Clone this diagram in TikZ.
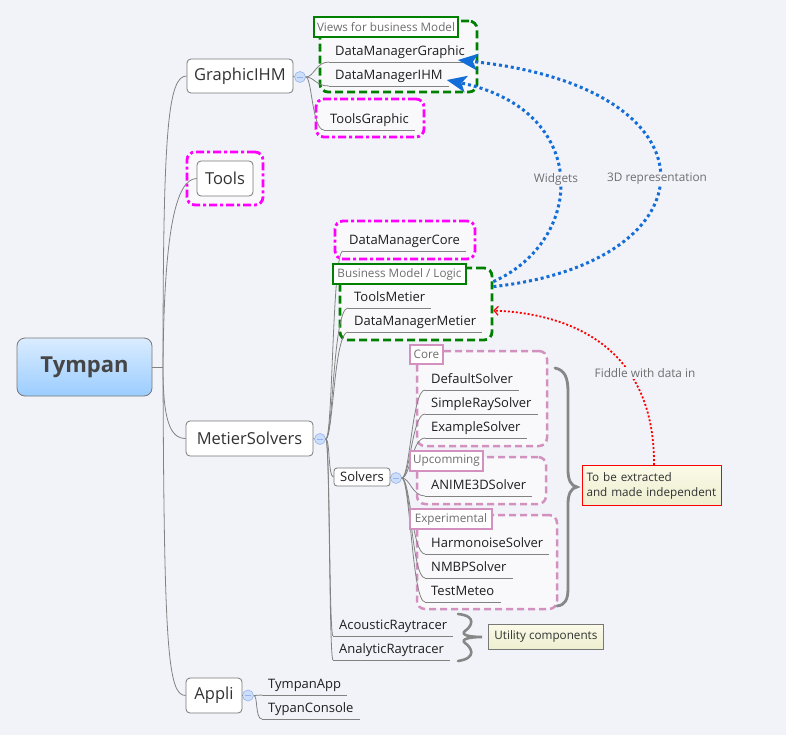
\documentclass[tikz,border=0pt]{standalone}
\usepackage{fontspec}
\setmainfont{Open Sans}
\usetikzlibrary{arrows.meta,shapes.geometric}
\definecolor{bg}{RGB}{242,243,249}
\definecolor{boxfill}{RGB}{249,249,251}
\definecolor{boxgray}{RGB}{120,120,120}
\definecolor{linegray}{RGB}{130,130,130}
\definecolor{txt}{RGB}{30,30,30}
\definecolor{maintxt}{RGB}{50,50,50}
\definecolor{lblgray}{RGB}{110,110,110}
\definecolor{dgreen}{RGB}{0,128,0}
\definecolor{mag}{RGB}{255,0,255}
\definecolor{pinkc}{RGB}{210,145,190}
\definecolor{dblue}{RGB}{20,110,215}
\definecolor{circf}{RGB}{205,222,250}
\definecolor{circb}{RGB}{150,180,235}
\definecolor{tymtop}{RGB}{218,236,255}
\definecolor{tymbot}{RGB}{155,205,255}
\definecolor{tymtxt}{RGB}{70,70,70}
\definecolor{notetop}{RGB}{250,250,232}
\definecolor{notebot}{RGB}{238,238,208}
\definecolor{bracegray}{RGB}{135,135,135}
\begin{document}
\begin{tikzpicture}[x=1pt,y=-1pt,
  mainbox/.style={draw=boxgray, fill=white, rounded corners=4pt, line width=0.8pt,
    font=\fontsize{16.5}{19}\selectfont, text=maintxt, inner sep=0pt},
  leaf/.style={anchor=south west, inner xsep=6pt, inner ysep=2.5pt, text height=10pt,
    text depth=3.5pt, font=\fontsize{13}{15}\selectfont, text=txt},
  uline/.style={draw=linegray, line width=0.8pt},
  branch/.style={draw=linegray, line width=0.8pt},
  circ/.style={circle, draw=circb, fill=circf, minimum size=11pt, inner sep=0pt, line width=0.6pt,
    path picture={\draw[circb,line width=0.7pt] ([xshift=-2.8pt]path picture bounding box.center) -- ([xshift=2.8pt]path picture bounding box.center);}},
  grouplabel/.style={line width=2.5pt, fill=white, font=\fontsize{11.7}{14}\selectfont,
    text=lblgray, inner sep=0pt, minimum height=20pt},
  greenbox/.style={draw=dgreen, line width=2.8pt, dash pattern=on 8pt off 4pt, rounded corners=8pt, fill=boxfill, inner sep=0pt},
  magbox/.style={draw=mag, line width=2.8pt, dash pattern=on 8pt off 3pt on 3pt off 3pt, rounded corners=8pt, fill=boxfill, inner sep=0pt},
  pinkbox/.style={draw=pinkc, line width=2.5pt, dash pattern=on 7pt off 4pt, rounded corners=8pt, fill=boxfill, inner sep=0pt},
  rellabel/.style={font=\fontsize{11.8}{14}\selectfont, text=lblgray, fill=bg, inner sep=1pt},
  bluedot/.style={draw=dblue, line width=3pt, dash pattern=on 3pt off 3pt,
    -{Stealth[length=20pt,width=17pt,inset=5pt,fill=dblue,line width=0pt]}},
  reddot/.style={draw=red, line width=1.8pt, dash pattern=on 2pt off 2pt,
    -{Straight Barb[length=4pt,width=9pt,line width=1.2pt]}},
  bracestyle/.style={draw=bracegray, line width=2.8pt, line cap=round}
]
\useasboundingbox[fill=bg] (0,0) rectangle (786,735);

% ---------- group frames ----------
\node[greenbox, minimum width=157pt, minimum height=71pt] (viewsgrp) at (398.5,56.5) {};
\node[magbox, minimum width=108pt, minimum height=38pt] (tgframe) at (370,118) {};
\node[magbox, minimum width=76pt, minimum height=53pt] (toolsframe) at (225,178.5) {};
\node[magbox, minimum width=140pt, minimum height=38pt] (dmcframe) at (405,240) {};
\node[greenbox, minimum width=152pt, minimum height=72pt] (bmgrp) at (416,304) {};
\node[pinkbox, minimum width=130pt, minimum height=95pt] (coregrp) at (482,398.5) {};
\node[pinkbox, minimum width=129pt, minimum height=47pt] (upgrp) at (481.5,480.5) {};
\node[pinkbox, minimum width=140pt, minimum height=94pt] (expgrp) at (487,562) {};

% ---------- main nodes ----------
\node[draw=boxgray, rounded corners=8pt, top color=tymtop, bottom color=tymbot, line width=0.8pt,
  minimum width=135pt, minimum height=58pt, inner sep=0pt,
  font=\bfseries\fontsize{22}{26}\selectfont, text=tymtxt] (root) at (84.5,367) {Tympan};
\coordinate (hub) at (163,367);

\node[mainbox, minimum width=106pt, minimum height=34pt] (gihm) at (240,76) {GraphicIHM};
\node[mainbox, minimum width=56pt, minimum height=35pt] (tools) at (225,178.5) {Tools};
\node[mainbox, minimum width=127pt, minimum height=35pt] (metier) at (249.5,438.5) {MetierSolvers};
\node[mainbox, minimum width=56pt, minimum height=35pt] (appli) at (214,695.5) {Appli};
\node[mainbox, rounded corners=3pt, minimum width=56pt, minimum height=18pt,
  font=\fontsize{13}{15}\selectfont, text=txt] (solvers) at (362,477) {Solvers};

\node[circ] (gc) at (300,77) {};
\node[circ] (mc) at (320,439) {};
\node[circ] (sc) at (396,478) {};
\node[circ] (ac) at (248,695.5) {};

% ---------- leaves ----------
\node[leaf] (dmg) at (329,62) {DataManagerGraphic};
\node[leaf] (dmi) at (329,86) {DataManagerIHM};
\node[leaf] (tg) at (324,130) {ToolsGraphic};
\node[leaf] (dmc) at (343,251) {DataManagerCore};
\node[leaf] (tm) at (348,308) {ToolsMetier};
\node[leaf] (dmm) at (348,332) {DataManagerMetier};
\node[leaf] (ds) at (425,390) {DefaultSolver};
\node[leaf] (srs) at (425,414) {SimpleRaySolver};
\node[leaf] (es) at (425,438) {ExampleSolver};
\node[leaf] (a3d) at (425,496) {ANIME3DSolver};
\node[leaf] (hs) at (425,554) {HarmonoiseSolver};
\node[leaf] (nmbp) at (425,578) {NMBPSolver};
\node[leaf] (tmet) at (425,602) {TestMeteo};
\node[leaf] (ar) at (333,636) {AcousticRaytracer};
\node[leaf] (anr) at (333,660) {AnalyticRaytracer};
\node[leaf] (ta) at (262,695) {TympanApp};
\node[leaf] (tc) at (262,719) {TypanConsole};

\foreach \n in {dmg,dmi,tg,dmc,tm,dmm,ds,srs,es,a3d,hs,nmbp,tmet,ar,anr,ta,tc}
  \draw[uline] (\n.south west) -- (\n.south east);

% ---------- root branches ----------
\draw[branch] (root.east) -- (hub);
\draw[branch] (hub) .. controls (163,130) and (168,76) .. (gihm.west);
\draw[branch] (hub) .. controls (164,230) and (176,179) .. (tools.west);
\draw[branch] (hub) .. controls (163,420) and (170,438.5) .. (metier.west);
\draw[branch] (hub) .. controls (164,650) and (168,695.5) .. (appli.west);

% ---------- GraphicIHM ----------
\draw[branch] (gihm.east) -- (gc.west);
\draw[branch] (gc.east) .. controls (314,77) and (316,62) .. (dmg.south west);
\draw[branch] (gc.east) .. controls (314,77) and (316,86) .. (dmi.south west);
\draw[branch] (gc.east) .. controls (312,77) and (312,130) .. (tg.south west);

% ---------- MetierSolvers ----------
\draw[branch] (metier.east) -- (mc.west);
\draw[branch] (mc.east) .. controls (333,439) and (332,251) .. (dmc.south west);
\draw[branch] (mc.east) .. controls (333,439) and (333,308) .. (tm.south west);
\draw[branch] (mc.east) .. controls (333,439) and (334,332) .. (dmm.south west);
\draw[branch] (mc.east) .. controls (330,439) and (328,477) .. (solvers.west);
\draw[branch] (mc.east) .. controls (330,439) and (329,636) .. (ar.south west);
\draw[branch] (mc.east) .. controls (330,439) and (329,660) .. (anr.south west);

% ---------- Solvers ----------
\draw[branch] (solvers.east) -- (sc.west);
\foreach \n in {ds,srs,es,a3d,hs,nmbp,tmet}
  \draw[branch] (sc.east) .. controls (410,478) and (412,0|-\n.south west) .. (\n.south west);

% ---------- Appli ----------
\draw[branch] (appli.east) -- (ac.west);
\draw[branch] (ac.east) -- (ta.south west);
\draw[branch] (ac.east) .. controls (258,695.5) and (255,719) .. (tc.south west);

% ---------- group labels ----------
\node[grouplabel, draw=dgreen, minimum width=144pt] (viewslbl) at (386,27) {Views for business Model};
\node[grouplabel, draw=dgreen, minimum width=133pt] (bmlbl) at (399.5,274) {Business Model / Logic};
\node[grouplabel, draw=pinkc, minimum width=33pt, minimum height=19pt] (corelbl) at (426.5,354.5) {Core};
\node[grouplabel, draw=pinkc, minimum width=73pt] (uplbl) at (446.5,461) {Upcomming};
\node[grouplabel, draw=pinkc, minimum width=82pt] (explbl) at (451,519) {Experimental};

% ---------- braces ----------
\draw[bracestyle] (555,368) .. controls (565,370) and (568,378) .. (568,392) -- (568,470)
  .. controls (568,480) and (571,486) .. (577,487)
  .. controls (571,488) and (568,494) .. (568,504) -- (568,588)
  .. controls (568,600) and (565,605) .. (557,606);
\draw[bracestyle, line width=2.6pt] (458,614) .. controls (478,616) and (471,627) .. (465,631)
  .. controls (460,635) and (470,637) .. (482,637)
  .. controls (470,637) and (460,639) .. (465,643)
  .. controls (471,647) and (478,658) .. (458,661);

% ---------- notes ----------
\node[draw=red, line width=1pt, top color=notetop, bottom color=notebot, anchor=north west,
  text width=131pt, inner xsep=4pt, inner ysep=2pt, minimum height=40pt, align=left,
  font=\fontsize{11.7}{15}\selectfont, text=maintxt] (note1) at (582,465)
  {To be extracted\\and made independent};
\node[draw=boxgray, line width=0.8pt, top color=notetop, bottom color=notebot, anchor=north west,
  minimum width=115pt, minimum height=25pt, inner sep=0pt,
  font=\fontsize{11.7}{14}\selectfont, text=maintxt] (note2) at (488,624) {Utility components};

% ---------- relationships ----------
\draw[bluedot] ([yshift=-15pt]bmgrp.north east) .. controls (586,240) and (591,110) .. ([xshift=-2pt,yshift=6pt]dmi.south east);
\draw[bluedot] ([yshift=-20pt]bmgrp.north east) .. controls (716,262) and (724,88) .. ([xshift=-13pt,yshift=2pt]dmg.south east);
\draw[reddot] ([xshift=2pt]note1.north) .. controls (655,340) and (560,313) .. ([yshift=-44pt]bmgrp.north east);

\node[rellabel] (lw) at (556,179) {Widgets};
\node[rellabel] (l3d) at (657,179) {3D representation};
\node[rellabel] (lf) at (645,373) {Fiddle with data in};
\end{tikzpicture}
\end{document}
